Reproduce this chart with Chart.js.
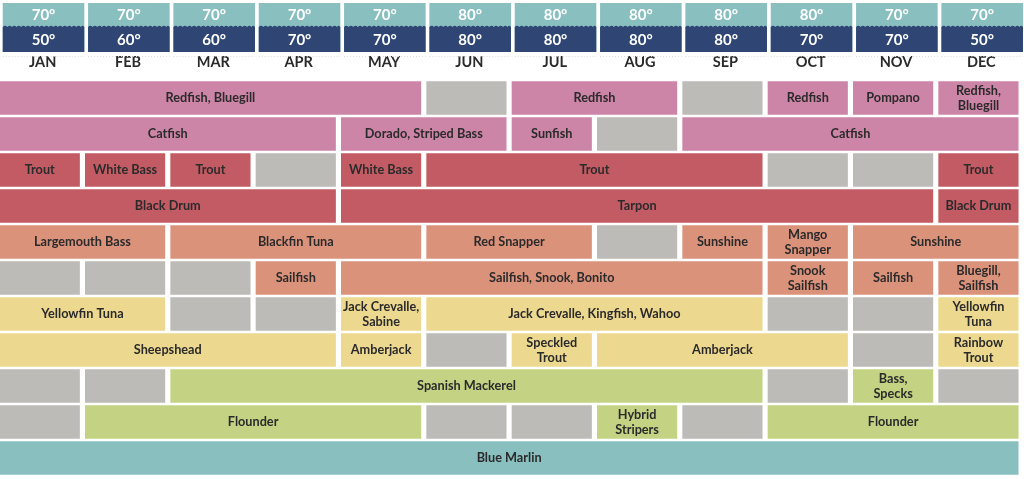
<!DOCTYPE html>
<html><head><meta charset="utf-8">
<script src="https://cdn.jsdelivr.net/npm/chart.js@4/dist/chart.umd.min.js"></script>
<style>html,body{margin:0;padding:0;background:#fff;overflow:hidden}#wrap{width:1024px;height:479px;position:relative}</style>
</head><body><div id="wrap"><canvas id="c"></canvas></div>
<script>
// ---------- DATA ----------
const months = ['JAN','FEB','MAR','APR','MAY','JUN','JUL','AUG','SEP','OCT','NOV','DEC'];
const highTemps = [70,70,70,70,70,80,80,80,80,80,70,70];
const lowTemps  = [50,60,60,70,70,80,80,80,80,70,70,50];
const rowIds = ['1','2','3','4','5','6','7','8','9','10','11'];
// cells: [start month index, end month index (exclusive), fish ('' = off season)]
const row1  = [[0,5,'Redfish, Bluegill'],[5,6,''],[6,8,'Redfish'],[8,9,''],[9,10,'Redfish'],[10,11,'Pompano'],[11,12,'Redfish,\nBluegill']];
const row2  = [[0,4,'Catfish'],[4,6,'Dorado, Striped Bass'],[6,7,'Sunfish'],[7,8,''],[8,12,'Catfish']];
const row3  = [[0,1,'Trout'],[1,2,'White Bass'],[2,3,'Trout'],[3,4,''],[4,5,'White Bass'],[5,9,'Trout'],[9,10,''],[10,11,''],[11,12,'Trout']];
const row4  = [[0,4,'Black Drum'],[4,11,'Tarpon'],[11,12,'Black Drum']];
const row5  = [[0,2,'Largemouth Bass'],[2,5,'Blackfin Tuna'],[5,7,'Red Snapper'],[7,8,''],[8,9,'Sunshine'],[9,10,'Mango\nSnapper'],[10,12,'Sunshine']];
const row6  = [[0,1,''],[1,2,''],[2,3,''],[3,4,'Sailfish'],[4,9,'Sailfish, Snook, Bonito'],[9,10,'Snook\nSailfish'],[10,11,'Sailfish'],[11,12,'Bluegill,\nSailfish']];
const row7  = [[0,2,'Yellowfin Tuna'],[2,3,''],[3,4,''],[4,5,'Jack Crevalle,\nSabine'],[5,9,'Jack Crevalle, Kingfish, Wahoo'],[9,10,''],[10,11,''],[11,12,'Yellowfin\nTuna']];
const row8  = [[0,4,'Sheepshead'],[4,5,'Amberjack'],[5,6,''],[6,7,'Speckled\nTrout'],[7,10,'Amberjack'],[10,11,''],[11,12,'Rainbow\nTrout']];
const row9  = [[0,1,''],[1,2,''],[2,9,'Spanish Mackerel'],[9,10,''],[10,11,'Bass,\nSpecks'],[11,12,'']];
const row10 = [[0,1,''],[1,5,'Flounder'],[5,6,''],[6,7,''],[7,8,'Hybrid\nStripers'],[8,9,''],[9,12,'Flounder']];
const row11 = [[0,12,'Blue Marlin']];

// ---------- STYLE ----------
const rows = [row1,row2,row3,row4,row5,row6,row7,row8,row9,row10,row11];
const PINK='#CD85A7', RED='#C35B64', SALMON='#DA927B', YELLOW='#ECD98F', GREEN='#C3D383', TEAL='#89BFBF', NAVY='#2F4574', GRAY='#BCBBB7';
const rowColors = [PINK,PINK,RED,RED,SALMON,SALMON,YELLOW,YELLOW,GREEN,GREEN,TEAL];
const CELL_GAP = 0.068;
const FONT = 'Lato, "Open Sans", sans-serif';

const datasets = rows.map((cells, r) => ({
  label: 'row' + (r + 1),
  data: cells.map(c => ({ x: [c[0], c[1] - CELL_GAP], y: rowIds[r], name: c[2] })),
  backgroundColor: cells.map(c => c[2] ? rowColors[r] : GRAY),
  borderWidth: 0,
  grouped: false,
  barThickness: 33
}));

const cellLabels = {
  id: 'cellLabels',
  afterDatasetsDraw(chart) {
    const ctx = chart.ctx;
    ctx.save();
    ctx.fillStyle = '#2B2A2B';
    ctx.font = 'bold 12.7px ' + FONT;
    ctx.textAlign = 'center';
    ctx.textBaseline = 'middle';
    chart.data.datasets.forEach((ds, di) => {
      const meta = chart.getDatasetMeta(di);
      meta.data.forEach((el, i) => {
        const name = ds.data[i].name;
        if (!name) return;
        const p = el.getProps(['x', 'y', 'base'], true);
        const cx = (p.x + p.base) / 2;
        const lines = name.split('\n');
        const lh = 15;
        lines.forEach((t, k) => {
          ctx.fillText(t, cx, p.y + (k - (lines.length - 1) / 2) * lh);
        });
      });
    });
    ctx.restore();
  }
};

const header = {
  id: 'header',
  afterDraw(chart) {
    const ctx = chart.ctx, xs = chart.scales.x;
    const top = 3, mid = 27, bottom = 52;
    ctx.save();
    months.forEach((m, i) => {
      const l = xs.getPixelForValue(i + 0.032), r = xs.getPixelForValue(i + 0.988);
      ctx.fillStyle = TEAL;
      ctx.fillRect(l, top, r - l, bottom - top);
      ctx.beginPath();
      ctx.moveTo(l, mid);
      const wl = 4.6;
      for (let x = l; x < r - 0.01; x += wl) {
        const nx = Math.min(x + wl, r);
        ctx.quadraticCurveTo((x + nx) / 2, mid - 2.4, nx, mid);
      }
      ctx.lineTo(r, bottom); ctx.lineTo(l, bottom); ctx.closePath();
      ctx.fillStyle = NAVY; ctx.fill();
      ctx.fillStyle = '#fff';
      ctx.font = 'bold 15px ' + FONT;
      ctx.textAlign = 'center'; ctx.textBaseline = 'middle';
      ctx.fillText(highTemps[i] + '°', (l + r) / 2, 15.5);
      ctx.fillText(lowTemps[i] + '°', (l + r) / 2, 40.5);
      ctx.strokeStyle = '#dcdcdc'; ctx.lineWidth = 1; ctx.setLineDash([1, 2]);
      ctx.beginPath(); ctx.moveTo(l, 56.5); ctx.lineTo(r, 56.5); ctx.stroke();
      ctx.setLineDash([]);
    });
    ctx.restore();
  }
};

new Chart(document.getElementById('c'), {
  type: 'bar',
  data: { labels: rowIds, datasets },
  options: {
    indexAxis: 'y',
    responsive: true,
    maintainAspectRatio: false,
    animation: false,
    layout: { padding: { top: 52, bottom: 3, left: 0, right: 0 } },
    plugins: { legend: { display: false }, tooltip: { enabled: false } },
    scales: {
      x: {
        type: 'linear', position: 'top', min: 0, max: 12,
        grid: { display: false, drawTicks: false },
        border: { display: false },
        afterBuildTicks: s => { s.ticks = months.map((m, i) => ({ value: i + 0.5 })); },
        afterFit: s => { s.height = 28; },
        ticks: {
          autoSkip: false, maxRotation: 0, padding: 9,
          font: { family: FONT, weight: 'bold', size: 14.5 },
          color: '#2A2A2A',
          callback: v => months[Math.floor(v)]
        }
      },
      y: {
        type: 'category', labels: rowIds, display: false, offset: true,
        grid: { display: false }
      }
    }
  },
  plugins: [cellLabels, header]
});
</script></body></html>
